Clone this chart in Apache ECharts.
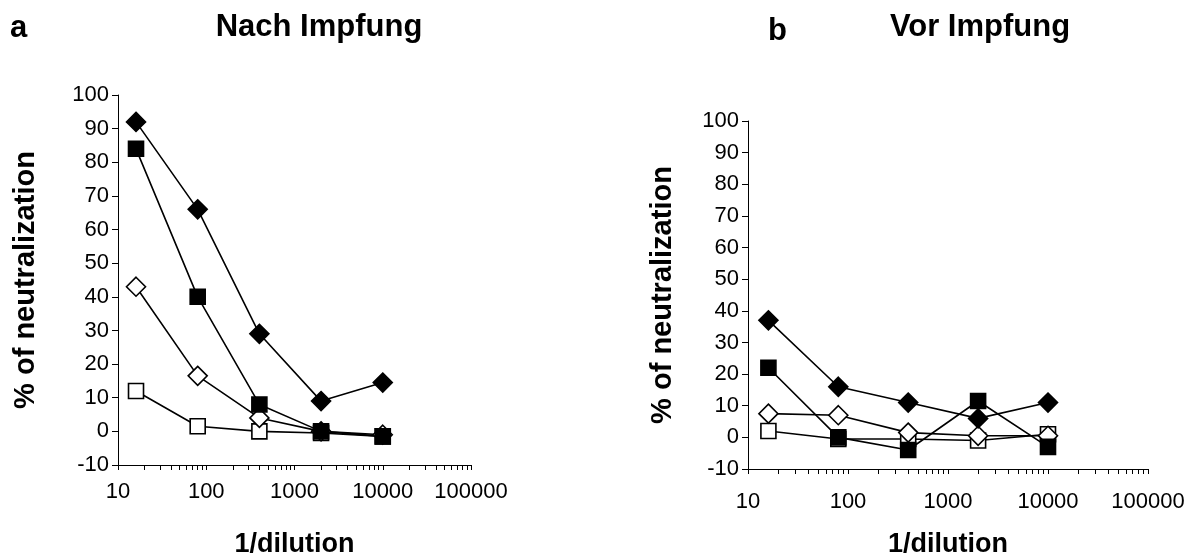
<!DOCTYPE html>
<html>
<head>
    <meta charset="utf-8" />
    <title>Neutralization</title>
    <script src="https://cdn.jsdelivr.net/npm/echarts@6/dist/echarts.min.js"></script>
</head>
<body style="margin:0;background:#fff">
    <div id="main" style="width:1196px;height:557px;"></div>
    <script type="text/javascript">
        // x values: 1/dilution
        var dilutions = [16, 80, 400, 2000, 10000];

        // panel a: Nach Impfung
        var aFilledDiamond = [92, 66, 29, 9, 14.5];
        var aFilledSquare = [84, 40, 8, 0, -1.5];
        var aOpenDiamond = [43, 16.5, 4, 0, -1];
        var aOpenSquare = [12, 1.5, 0, -0.5, -1.5];

        // panel b: Vor Impfung
        var bFilledDiamond = [37, 16, 11, 6, 11];
        var bFilledSquare = [22, 0, -4, 11.5, -3];
        var bOpenDiamond = [7.5, 7, 1.5, 0.5, 0.5];
        var bOpenSquare = [2, -0.5, -0.5, -1, 1];

        var majorLabels = [10, 100, 1000, 10000, 100000];

        // minor + major tick positions on the log axis
        var xTicks = [];
        for (var d = 10; d < 100000; d *= 10) {
            for (var m = 1; m < 10; m++) xTicks.push(d * m);
        }
        xTicks.push(100000);

        var FONT = 'Liberation Sans, Arial, sans-serif';

        var myChart = echarts.init(document.getElementById('main'));

        function pairs(ys) {
            return dilutions.map(function (x, i) { return [x, ys[i]]; });
        }

        function line(idx, ys, symbol, filled) {
            return {
                type: 'line',
                xAxisIndex: idx,
                yAxisIndex: idx,
                data: pairs(ys),
                symbol: symbol === 'diamond' ? 'diamond' : 'rect',
                symbolSize: symbol === 'diamond' ? 19 : 15,
                showAllSymbol: true,
                lineStyle: { color: '#000', width: 1.6 },
                itemStyle: {
                    color: filled ? '#000' : '#fff',
                    borderColor: '#000',
                    borderWidth: 1.6
                },
                emphasis: { disabled: true },
                animation: false
            };
        }

        function xAxis(idx, gap, labelMargin) {
            return {
                type: 'log',
                gridIndex: idx,
                logBase: 10,
                min: 10,
                max: 100000,
                name: '1/dilution',
                nameLocation: 'middle',
                nameGap: gap,
                nameTextStyle: { fontFamily: FONT, fontSize: 27, fontWeight: 'bold', color: '#000' },
                axisLine: { onZero: false, lineStyle: { color: '#000', width: 1 } },
                axisTick: { show: true, length: 5, customValues: xTicks, lineStyle: { color: '#000' } },
                axisLabel: {
                    customValues: majorLabels,
                    formatter: function (v) { return String(Math.round(v)); },
                    fontFamily: FONT, fontSize: 22, color: '#000', margin: labelMargin
                },
                splitLine: { show: false }
            };
        }

        function yAxis(idx, gap) {
            return {
                type: 'value',
                gridIndex: idx,
                min: -10,
                max: 100,
                interval: 10,
                name: '% of neutralization',
                nameLocation: 'middle',
                nameGap: gap,
                nameTextStyle: { fontFamily: FONT, fontSize: 29, fontWeight: 'bold', color: '#000' },
                axisLine: { show: true, lineStyle: { color: '#000', width: 1 } },
                axisTick: { show: true, length: 6, lineStyle: { color: '#000' } },
                axisLabel: { fontFamily: FONT, fontSize: 22, color: '#000', margin: 9 },
                splitLine: { show: false }
            };
        }

        var titleFont = 'bold 31px ' + FONT;

        var option = {
            animation: false,
            grid: [
                { left: 118, top: 95, width: 353, height: 370, containLabel: false, outerBoundsMode: 'none' },
                { left: 748, top: 121, width: 400, height: 348, containLabel: false, outerBoundsMode: 'none' }
            ],
            xAxis: [xAxis(0, 66, 16), xAxis(1, 62, 22)],
            yAxis: [yAxis(0, 78), yAxis(1, 71)],
            graphic: [
                { type: 'text', style: { text: 'a', x: 10, y: 28, font: titleFont, fill: '#000', verticalAlign: 'middle' } },
                { type: 'text', style: { text: 'Nach Impfung', x: 319, y: 27, font: titleFont, fill: '#000', textAlign: 'center', verticalAlign: 'middle' } },
                { type: 'text', style: { text: 'b', x: 768, y: 31, font: titleFont, fill: '#000', verticalAlign: 'middle' } },
                { type: 'text', style: { text: 'Vor Impfung', x: 980, y: 27, font: titleFont, fill: '#000', textAlign: 'center', verticalAlign: 'middle' } }
            ],
            series: [
                line(0, aOpenSquare, 'square', false),
                line(0, aOpenDiamond, 'diamond', false),
                line(0, aFilledDiamond, 'diamond', true),
                line(0, aFilledSquare, 'square', true),
                line(1, bOpenSquare, 'square', false),
                line(1, bOpenDiamond, 'diamond', false),
                line(1, bFilledDiamond, 'diamond', true),
                line(1, bFilledSquare, 'square', true)
            ]
        };

        myChart.setOption(option);
    </script>
</body>
</html>
